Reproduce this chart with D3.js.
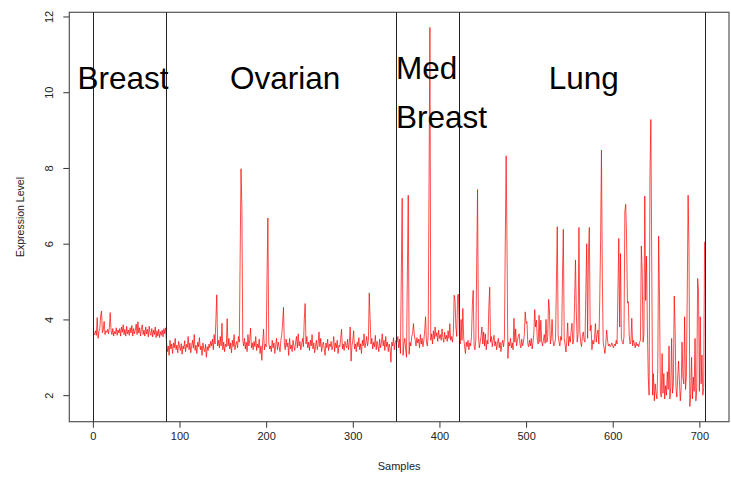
<!DOCTYPE html>
<html>
<head>
<meta charset="utf-8">
<script src="https://cdn.jsdelivr.net/npm/d3@7/dist/d3.min.js"></script>
<style>
  html, body { margin: 0; padding: 0; background: #fff; }
  svg { display: block; font-family: "Liberation Sans", Arial, Helvetica, sans-serif; }
</style>
</head>
<body>
<svg id="chart" width="731" height="477"></svg>
<script>
// ---- data ----
const tissues = ["Breast", "Ovarian", "Med\nBreast", "Lung"];
const dividers = [0, 84, 350, 422, 707];
const xTicks = [0, 100, 200, 300, 400, 500, 600, 700];
const yTicks = [2, 4, 6, 8, 10, 12];

const breastValues = [
  3.62, 3.60, 3.70, 3.58, 4.05, 3.50, 3.68, 3.75, 4.10, 4.22,
  3.65, 3.72, 3.95, 3.60, 3.70, 3.66, 3.74, 3.62, 3.78, 4.18,
  3.70, 3.60, 3.76, 3.56, 3.68, 3.62, 3.78, 3.58, 3.72, 3.64,
  3.76, 3.56, 3.80, 3.66, 3.86, 3.60, 3.74, 3.56, 3.82, 3.62,
  3.72, 3.58, 3.78, 3.64, 3.84, 3.56, 3.76, 3.62, 3.72, 3.88,
  3.60, 3.94, 3.64, 3.78, 3.56, 3.74, 3.86, 3.60, 3.72, 3.56,
  3.80, 3.62, 3.74, 3.54, 3.82, 3.64, 3.58, 3.76, 3.54, 3.72,
  3.60, 3.80, 3.52, 3.70, 3.56, 3.74, 3.52, 3.68, 3.58, 3.72,
  3.54, 3.76, 3.62, 3.78
];
const ovarianValues = [
  3.40, 3.15, 3.30, 3.05, 3.45, 3.22, 3.35, 3.10, 3.38, 3.25,
  3.50, 3.20, 3.32, 3.12, 3.42, 3.28, 3.18, 3.36, 3.08, 3.30,
  3.22, 3.44, 3.15, 3.34, 3.26, 3.55, 3.20, 3.38, 3.12, 3.30,
  3.45, 3.24, 3.60, 3.18, 3.32, 3.10, 3.40, 3.28, 3.52, 3.20,
  3.30, 3.05, 3.38, 3.22, 3.15, 3.34, 3.00, 3.28, 3.18, 3.35,
  3.25, 3.42, 3.30, 3.48, 3.20, 3.60, 3.35, 4.00, 4.65, 3.30,
  3.45, 3.25, 3.55, 3.30, 3.90, 3.20, 3.40, 3.15, 3.35, 3.28,
  4.02, 3.30, 3.50, 3.22, 3.38, 3.12, 3.45, 3.28, 3.60, 3.20,
  3.35, 3.42, 3.25, 3.55, 3.40, 5.70, 7.98, 6.93, 3.45, 3.30,
  3.50, 3.22, 3.40, 3.15, 3.60, 3.30, 3.45, 3.77, 3.25, 3.38,
  3.20, 3.42, 3.28, 3.55, 3.18, 3.35, 3.25, 3.48, 3.10, 3.30,
  2.92, 3.40, 3.74, 3.20, 3.35, 3.28, 5.13, 6.68, 3.40, 3.22,
  3.30, 3.15, 3.45, 3.25, 3.38, 3.10, 3.32, 3.50, 3.20, 3.40,
  3.28, 3.15, 3.45, 3.60, 3.90, 4.32, 3.35, 3.20, 3.48, 3.28,
  3.38, 3.05, 3.50, 3.22, 3.32, 3.15, 3.45, 3.30, 3.18, 3.40,
  3.55, 3.25, 3.62, 3.30, 3.42, 3.20, 3.35, 3.50, 3.28, 4.00,
  4.42, 3.35, 3.55, 3.25, 3.40, 3.18, 3.45, 3.30, 3.60, 3.22,
  3.38, 3.12, 3.30, 3.45, 3.20, 3.35, 3.67, 3.28, 3.50, 3.15,
  3.32, 3.40, 3.22, 3.05, 3.38, 3.25, 3.48, 3.18, 3.35, 3.28,
  3.42, 3.20, 3.30, 3.55, 3.15, 3.38, 3.25, 3.45, 3.10, 3.32,
  3.28, 3.50, 3.74, 3.22, 3.35, 3.18, 3.42, 3.30, 3.25, 3.48,
  3.20, 3.38, 3.80, 2.90, 3.30, 3.45, 3.70, 3.22, 3.35, 3.15,
  3.40, 3.28, 3.52, 3.20, 3.36, 3.10, 3.45, 3.30, 3.62, 3.25,
  3.38, 3.55, 3.30, 3.45, 4.70, 4.00, 3.35, 3.50, 3.22, 3.40,
  3.28, 3.58, 3.20, 3.42, 3.30, 3.15, 3.48, 3.25, 3.38, 3.62,
  3.30, 3.45, 3.18, 3.55, 3.28, 3.40, 3.15, 3.35, 3.25, 2.87,
  3.40, 3.30, 3.52, 3.20, 3.38, 3.45
];
const medBreastValues = [
  3.40, 3.55, 3.25, 3.48, 3.10, 5.21, 7.20, 3.05, 3.35, 3.50,
  3.22, 3.00, 5.26, 7.28, 3.08, 3.40, 3.30, 3.55, 3.62, 3.89,
  3.60, 3.45, 3.30, 3.52, 3.38, 3.48, 3.25, 3.60, 3.35, 3.50,
  3.28, 3.45, 3.70, 4.07, 3.40, 3.30, 3.58, 7.59, 11.71, 3.45,
  3.62, 3.35, 3.70, 3.48, 3.80, 3.55, 3.65, 3.42, 3.72, 3.50,
  3.60, 3.45, 3.75, 3.52, 3.40, 3.66, 3.48, 3.58, 3.42, 3.70,
  3.50, 3.89, 3.45, 3.55, 3.40, 3.62, 4.64, 4.48, 3.80, 3.55,
  4.64, 4.67
];
const lungValues = [
  3.60, 3.35, 4.00, 3.45, 4.29, 3.50, 3.30, 3.10, 3.40, 3.28,
  3.45, 3.20, 3.38, 3.30, 3.55, 4.40, 4.77, 3.30, 3.20, 3.45,
  5.39, 7.43, 3.60, 3.25, 3.40, 3.55, 3.80, 3.35, 3.67, 3.30,
  3.62, 3.20, 3.45, 3.35, 4.30, 4.85, 3.40, 3.55, 3.28, 3.45,
  3.58, 3.30, 3.42, 3.20, 3.38, 3.50, 3.25, 3.40, 3.15, 3.35,
  3.45, 3.28, 3.50, 6.05, 8.32, 5.94, 2.97, 3.40, 3.30, 3.50,
  3.25, 3.38, 3.20, 4.03, 3.40, 3.75, 3.30, 3.45, 3.55, 3.62,
  3.35, 3.25, 3.48, 3.30, 3.40, 3.60, 4.20, 3.90, 3.94, 3.35,
  3.28, 3.45, 3.30, 3.50, 3.22, 3.40, 3.65, 4.26, 3.80, 3.98,
  3.45, 3.35, 4.11, 3.40, 3.98, 3.42, 3.30, 3.45, 3.60, 3.37,
  4.00, 3.40, 3.55, 4.53, 4.25, 3.35, 3.50, 4.00, 3.45, 3.30,
  3.37, 3.50, 4.97, 6.45, 3.60, 3.40, 3.30, 3.55, 3.45, 5.08,
  6.38, 3.50, 3.35, 3.14, 3.45, 3.91, 3.30, 3.55, 3.40, 3.70,
  3.90, 3.35, 3.50, 4.47, 5.57, 4.20, 3.40, 3.60, 6.43, 3.70,
  3.40, 3.28, 3.55, 3.67, 3.45, 3.40, 4.77, 6.00, 3.50, 5.72,
  6.43, 3.70, 3.85, 3.20, 3.45, 3.35, 3.50, 3.89, 3.40, 3.60,
  3.72, 3.35, 4.50, 6.05, 8.47, 5.13, 3.40, 3.25, 3.10, 3.35,
  3.72, 3.45, 3.30, 3.35, 3.28, 3.32, 3.38, 3.30, 3.25, 3.35,
  3.30, 3.45, 3.35, 4.73, 6.14, 3.80, 5.74, 3.50, 3.40, 3.35,
  3.55, 6.84, 7.04, 6.10, 4.43, 4.47, 3.60, 3.35, 3.40, 4.03,
  3.30, 3.45, 3.35, 3.25, 3.40, 3.30, 3.35, 3.28, 3.40, 3.45,
  5.94, 5.30, 3.40, 3.60, 7.26, 4.50, 5.67, 3.80, 2.48, 2.00,
  7.86, 9.28, 5.61, 2.00, 2.57, 1.85, 2.30, 2.05, 1.90, 2.70,
  6.20, 4.60, 2.10, 1.95, 3.10, 2.05, 2.57, 1.90, 2.25, 2.00,
  2.62, 2.15, 3.30, 1.90, 2.20, 3.50, 2.05, 2.30, 4.62, 3.76,
  2.20, 1.95, 2.48, 2.90, 2.35, 1.85, 2.20, 3.40, 2.48, 2.30,
  4.07, 2.15, 2.50, 4.64, 7.28, 5.92, 1.70, 2.04, 3.00, 1.90,
  2.48, 2.10, 3.50, 1.85, 2.20, 5.08, 4.77, 2.10, 4.07, 2.30,
  3.06, 2.00, 2.20, 6.05
];

// ---- build series ----
const values = [].concat(breastValues, ovarianValues, medBreastValues, lungValues);
const series = values.map((v, i) => ({ sample: i + 1, value: v }));
const n = series.length;

// ---- layout ----
const svg = d3.select("#chart");
const plot = { left: 69.3, right: 729, top: 12.3, bottom: 421.7 };

const xMin = 1, xMax = n;
const xPad = 0.04 * (xMax - xMin);
const x = d3.scaleLinear().domain([xMin - xPad, xMax + xPad]).range([plot.left, plot.right]);

const yMin = d3.min(values), yMax = d3.max(values);
const yPad = 0.04 * (yMax - yMin);
const y = d3.scaleLinear().domain([yMin - yPad, yMax + yPad]).range([plot.bottom, plot.top]);

const axisColor = "#333";

// x axis
const gx = svg.append("g")
  .attr("transform", `translate(0,${plot.bottom})`)
  .call(d3.axisBottom(x).tickValues(xTicks).tickSize(6).tickPadding(5).tickSizeOuter(0));
gx.select(".domain").remove();
gx.selectAll(".tick line").attr("stroke", axisColor);
gx.selectAll(".tick text").attr("fill", "#222").style("font-size", "11px");

// y axis
const gy = svg.append("g")
  .attr("transform", `translate(${plot.left},0)`)
  .call(d3.axisLeft(y).tickValues(yTicks).tickSize(6).tickSizeOuter(0));
gy.select(".domain").remove();
gy.selectAll(".tick line").attr("stroke", axisColor);
gy.selectAll(".tick text")
  .attr("fill", "#222").style("font-size", "11px")
  .attr("transform", "rotate(-90)")
  .attr("text-anchor", "middle")
  .attr("x", 0).attr("y", -20.3).attr("dy", null)
  .attr("dominant-baseline", "central");

// plot box
svg.append("rect")
  .attr("x", plot.left).attr("y", plot.top)
  .attr("width", plot.right - plot.left).attr("height", plot.bottom - plot.top)
  .attr("fill", "none").attr("stroke", "#555").attr("stroke-width", 1.2);

// axis titles
svg.append("text")
  .attr("x", (plot.left + plot.right) / 2).attr("y", 466)
  .attr("text-anchor", "middle").attr("dominant-baseline", "central")
  .attr("fill", "#222").style("font-size", "11px")
  .text("Samples");
svg.append("text")
  .attr("transform", `translate(20,${(plot.top + plot.bottom) / 2}) rotate(-90)`)
  .attr("text-anchor", "middle").attr("dominant-baseline", "central")
  .attr("fill", "#222").style("font-size", "10.5px")
  .text("Expression Level");

// red expression line
const line = d3.line().x(d => x(d.sample)).y(d => y(d.value));
svg.append("path")
  .datum(series)
  .attr("d", line)
  .attr("fill", "none")
  .attr("stroke", "#ff0000")
  .attr("stroke-width", 0.7)
  .attr("stroke-linejoin", "miter");

// vertical dividers
svg.selectAll("line.divider")
  .data(dividers)
  .enter().append("line")
  .attr("class", "divider")
  .attr("x1", d => Math.round(x(d)) + 0.5).attr("x2", d => Math.round(x(d)) + 0.5)
  .attr("y1", plot.top).attr("y2", plot.bottom)
  .attr("stroke", "#222").attr("stroke-width", 1);

// tissue labels
const labelPos = [
  { sx: -17.7, vy: 10.09 },
  { sx: 158.3, vy: 10.09 },
  { sx: 349.9, vy: 10.35 },
  { sx: 526.1, vy: 10.09 }
];
tissues.forEach((name, i) => {
  const t = svg.append("text")
    .attr("x", x(labelPos[i].sx)).attr("y", y(labelPos[i].vy))
    .attr("fill", "#000").style("font-size", "31.5px");
  name.split("\n").forEach((part, j) => {
    t.append("tspan")
      .attr("x", x(labelPos[i].sx))
      .attr("dy", j === 0 ? 0 : 49.1)
      .text(part);
  });
});
</script>
</body>
</html>
